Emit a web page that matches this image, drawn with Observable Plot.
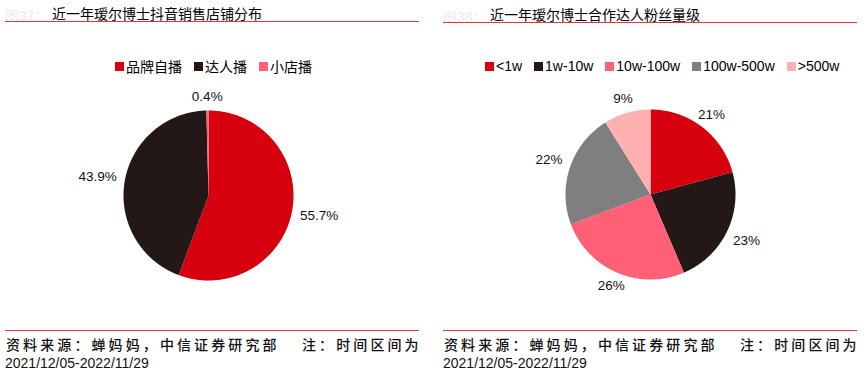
<!DOCTYPE html>
<html>
<head>
<meta charset="utf-8">
<script src="https://cdn.jsdelivr.net/npm/d3@7"></script>
<script src="https://cdn.jsdelivr.net/npm/@observablehq/plot@0.6"></script>
<style>
  html, body { margin:0; padding:0; background:#fff; }
  body { font-family: "Liberation Sans", Arial, "Noto Sans CJK SC", sans-serif; color:#000; }
  #root { position:relative; width:866px; height:377px; overflow:hidden; }
  .abs { position:absolute; white-space:nowrap; }
  .fig { color:#ececec; font-size:14px; }
  .title { font-size:14px; font-family: "Noto Sans CJK SC", sans-serif; line-height:16px; }
  .rule { position:absolute; height:1px; background:#e0383e; }
  .legend { position:absolute; display:flex; align-items:center; font-size:14px; line-height:16px; }
  .legend .item { display:flex; align-items:center; margin-right:12px; }
  .legend .sw { width:9px; height:9px; margin-right:2px; }
  .legend .zh { font-family: "Noto Sans CJK SC", sans-serif; }
  .src { font-size:14px; letter-spacing:3.1px; font-family: "Noto Sans CJK SC", sans-serif; font-weight:500; line-height:16px; color:#111; }
  .date { font-size:14px; line-height:16px; color:#111; }
</style>
</head>
<body>
<div id="root"></div>
<script>
// ---------- data ----------
const leftTitle = "近一年瑷尔博士抖音销售店铺分布";
const leftCats = ["品牌自播", "达人播", "小店播"];
const leftValues = [55.7, 43.9, 0.4];
const leftColors = ["#D7000F", "#231815", "#FF6076"];

const rightTitle = "近一年瑷尔博士合作达人粉丝量级";
const rightCats = ["<1w", "1w-10w", "10w-100w", "100w-500w", ">500w"];
const rightValues = [21, 23, 26, 22, 9];
const rightColors = ["#D7000F", "#231815", "#FF6076", "#7F7F7F", "#FFB1B1"];

const sourceA = "资料来源：蝉妈妈，中信证券研究部";
const sourceB = "注：时间区间为";
const sourceDate = "2021/12/05-2022/11/29";

// ---------- helpers ----------
const root = document.getElementById("root");
const ctx = document.createElement("canvas").getContext("2d");
const labelFont = 13.5;
ctx.font = `${labelFont}px "Liberation Sans", Arial, sans-serif`;

function el(cls, text, left, top, extra) {
  const d = document.createElement("div");
  d.className = "abs " + cls;
  d.textContent = text;
  d.style.left = left + "px";
  d.style.top = top + "px";
  if (extra) Object.assign(d.style, extra);
  root.appendChild(d);
  return d;
}
function rule(left, top, width) {
  const d = document.createElement("div");
  d.className = "rule";
  d.style.left = left + "px"; d.style.top = top + "px"; d.style.width = width + "px";
  root.appendChild(d);
}
function legend(cats, colors, left, top, zh) {
  const lg = document.createElement("div");
  lg.className = "legend";
  lg.style.left = left + "px"; lg.style.top = top + "px";
  cats.forEach((c, i) => {
    const it = document.createElement("div"); it.className = "item";
    const sw = document.createElement("div"); sw.className = "sw"; sw.style.background = colors[i];
    const tx = document.createElement("span"); tx.textContent = c; if (zh) tx.className = "zh";
    it.appendChild(sw); it.appendChild(tx); lg.appendChild(it);
  });
  root.appendChild(lg);
}

function pie(cats, values, colors, fmt, cx, cy) {
  const W = 420, H = 240, R = 85, gap = 8;
  const total = d3.sum(values);
  const pts = [], labels = [];
  let acc = 0;
  cats.forEach((c, i) => {
    const a0 = acc / total * 2 * Math.PI;
    acc += values[i];
    const a1 = acc / total * 2 * Math.PI;
    pts.push({cat: c, x: 0, y: 0});
    const n = Math.max(2, Math.ceil((a1 - a0) / (Math.PI / 360)));
    for (let k = 0; k <= n; k++) {
      const t = a0 + (a1 - a0) * k / n;
      pts.push({cat: c, x: R * Math.sin(t), y: R * Math.cos(t)});
    }
    const m = (a0 + a1) / 2, ux = Math.sin(m), uy = Math.cos(m);
    const text = fmt(values[i]) + "%";
    const w = ctx.measureText(text).width, h = 12;
    const off = Math.min(Math.abs(ux) > 1e-6 ? w / 2 / Math.abs(ux) : 1e9,
                         Math.abs(uy) > 1e-6 ? h / 2 / Math.abs(uy) : 1e9);
    const d = R + gap + off;
    labels.push({text, x: d * ux, y: d * uy});
  });
  const svg = Plot.plot({
    width: W, height: H, margin: 0,
    x: {domain: [-W / 2, W / 2], axis: null},
    y: {domain: [-H / 2, H / 2], axis: null},
    color: {domain: cats, range: colors},
    style: {fontFamily: '"Liberation Sans", Arial, sans-serif', background: "transparent", overflow: "visible"},
    marks: [
      Plot.line(pts, {x: "x", y: "y", z: "cat", fill: "cat", stroke: "none", curve: "linear-closed"}),
      Plot.text(labels, {x: "x", y: "y", text: "text", fontSize: labelFont, fill: "#111"})
    ]
  });
  svg.style.position = "absolute";
  svg.style.left = (cx - W / 2) + "px";
  svg.style.top = (cy - H / 2) + "px";
  root.appendChild(svg);
}

// ---------- left panel ----------
el("fig", "图37：", 5, 5);
el("title", leftTitle, 52, 5);
rule(5, 21, 414);
legend(leftCats, leftColors, 115, 58, true);
pie(leftCats, leftValues, leftColors, d3.format(".1f"), 208, 195);
rule(5, 330, 414);
el("src", sourceA, 6, 336);
el("src", sourceB, 302, 336);
el("date", sourceDate, 5, 355);

// ---------- right panel ----------
el("fig", "图38：", 443, 6);
el("title", rightTitle, 490, 6);
rule(443, 22, 414);
legend(rightCats, rightColors, 485, 58, false);
pie(rightCats, rightValues, rightColors, d3.format("d"), 650, 194);
rule(443, 330, 414);
el("src", sourceA, 444, 336);
el("src", sourceB, 740, 336);
el("date", sourceDate, 443, 355);
</script>
</body>
</html>
